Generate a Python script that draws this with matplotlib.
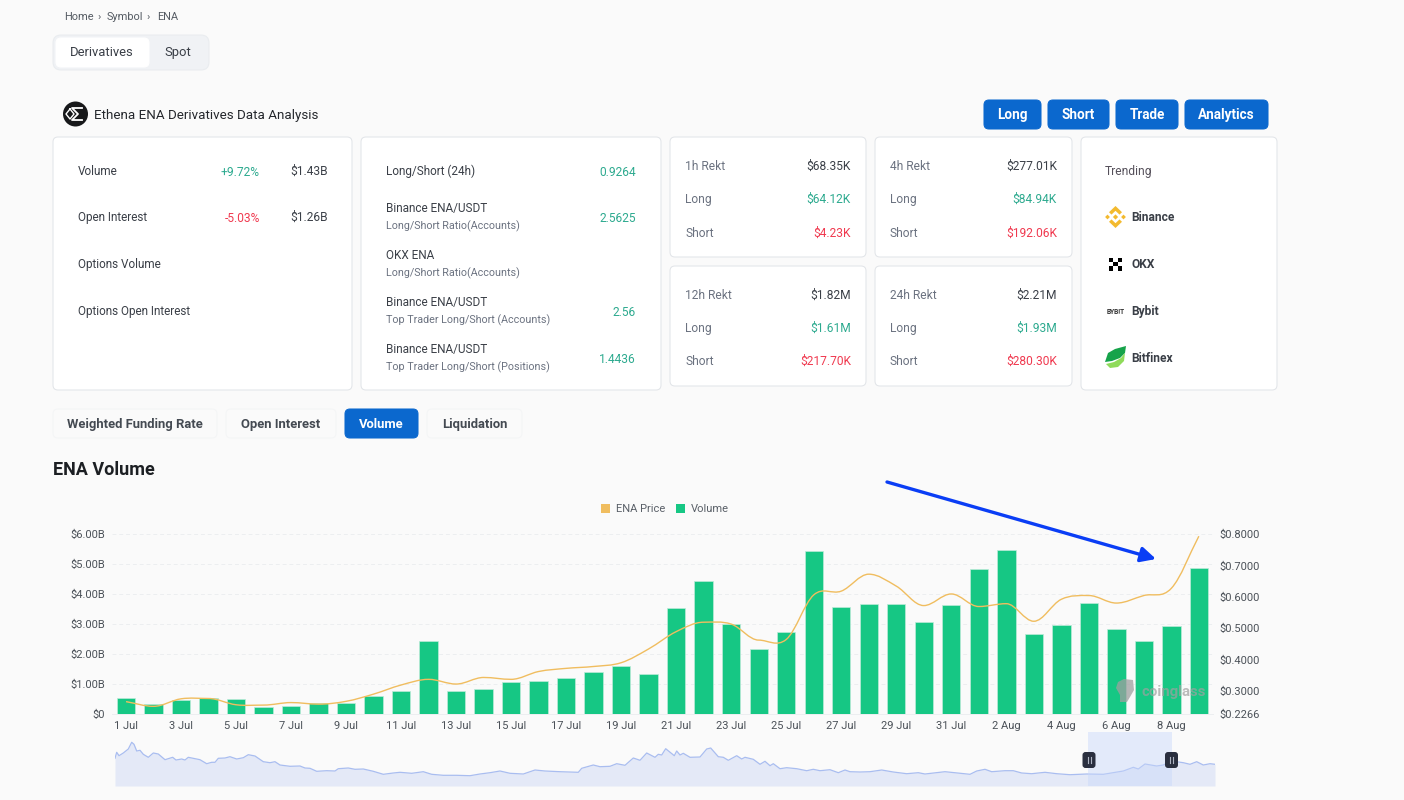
import matplotlib
matplotlib.use("Agg")
import matplotlib.pyplot as plt
from matplotlib.patches import FancyBboxPatch, Polygon, Circle, Rectangle, PathPatch, Patch
from matplotlib.path import Path
import numpy as np

plt.rcParams['font.family'] = ['Roboto', 'DejaVu Sans']

W, H = 1404, 800
BG = '#FAFAFA'
BLUE = '#0B68CE'
GREEN = '#16C784'
GOLD = '#F0BD5F'
UP = '#2DAA8F'
DOWN = '#F0394F'
INK = '#3A3F47'
SUB = '#6B7280'

days = ['1 Jul','2 Jul','3 Jul','4 Jul','5 Jul','6 Jul','7 Jul','8 Jul','9 Jul','10 Jul',
        '11 Jul','12 Jul','13 Jul','14 Jul','15 Jul','16 Jul','17 Jul','18 Jul','19 Jul','20 Jul',
        '21 Jul','22 Jul','23 Jul','24 Jul','25 Jul','26 Jul','27 Jul','28 Jul','29 Jul','30 Jul',
        '31 Jul','1 Aug','2 Aug','3 Aug','4 Aug','5 Aug','6 Aug','7 Aug','8 Aug','9 Aug']
volume_b = [0.55,0.33,0.48,0.52,0.49,0.25,0.27,0.37,0.37,0.59,
            0.77,2.44,0.78,0.83,1.07,1.11,1.19,1.40,1.59,1.33,
            3.53,4.45,3.00,2.17,2.75,5.43,3.57,3.67,3.66,3.07,
            3.63,4.83,5.47,2.68,2.96,3.70,2.82,2.43,2.95,4.87]
price = [.266,.251,.275,.276,.256,.255,.263,.258,.267,.290,
         .319,.337,.322,.343,.337,.362,.372,.378,.390,.434,
         .489,.519,.513,.462,.464,.606,.618,.672,.634,.572,
         .609,.569,.578,.522,.592,.604,.580,.604,.627,.793]
vol_ticks = [0,1,2,3,4,5,6]
vol_labels = ['$0','$1.00B','$2.00B','$3.00B','$4.00B','$5.00B','$6.00B']
price_ticks = [.2266,.3,.4,.5,.6,.7,.8]
price_labels = ['$0.2266','$0.3000','$0.4000','$0.5000','$0.6000','$0.7000','$0.8000']

overview_pos = [0,1.7,4,8.3,13.3,16.7,19,21.7,25,28.3,33.3,38.3,43.3,50,57.7,61,66.7,70,73.3,80,85,91.7,96.7,100,103.3,
    110,115,121.7,128.3,133.3,140,148.3,155,160,165,175,185,190,195,201.7,211.7,220,223.3,233.3,240,248.3,258.3,268.3,
    278.3,285,296.7,308.3,316.7,328.3,341.7,355,365,375,385,395,408.3,420,430,445,463.3,466.7,478.3,485,495,501.7,510,
    518.3,525,531.7,540,543.3,546.7,550.7,559.3,561.7,565,568.3,575,585,591.7,595.7,603.3,608.3,613.3,621.7,626.7,630,
    638.3,645,650,655,658.3,665,671.7,681.7,691.7,698.3,705,715,723.3,730,735,745,755,766.7,778.3,791.7,803.3,810,830,
    845,855,861.7,870,876.7,890,898.3,906.7,916.7,930,941.7,955,971.7,988.3,1008.3,1018.3,1023.3,1030,1041.7,1048.3,
    1056.7,1068.3,1075,1081.7,1088.3,1095,1100]
overview_val = [27.7,33.7,30.3,33,37,43.7,41.7,35,35.7,31.7,28.7,33,32,26.3,28.7,26,27,26,28.7,27.3,26.3,22.3,23.7,23.7,27.7,
    28,29.3,27,28.3,31.3,30,24.3,23.3,24.3,21,19.7,20,18,17.7,14.7,15.3,15,17.3,18,16.7,17,14.7,11.7,
    13,13.7,12.7,14.3,11.7,10.7,10.7,10.3,12,13.3,15,12.7,12,16,15,14.3,13.7,17.7,21,19.3,19.7,22.3,20.7,
    28,25.7,33,28.7,31.7,31,37.3,30.3,35,31,32.7,28.7,29,37,38,29.3,28.7,25.7,30.3,27,28.7,
    26.7,21.7,24.7,20.3,22.3,17.3,18.3,17.3,15.3,16.7,15.3,16.3,13.3,16,14.3,14,14.3,16,14,12.3,13.3,12,14.3,
    12.7,11.7,15,16.7,14.3,15.3,15.3,13,12.3,13.7,12.3,11.3,12,11.7,15,18.7,17,22,20,21,
    25,23.3,21.7,24.3,21,22.3,21.7]

fig = plt.figure(figsize=(W/100, H/100), dpi=100, facecolor=BG)

def axes_px(l, t, r, b, **kw):
    return fig.add_axes([l/W, 1-b/H, (r-l)/W, (b-t)/H], **kw)

page = axes_px(0, 0, W, H, zorder=0)
page.set_xlim(0, W); page.set_ylim(H, 0); page.axis('off')

def box(x0, y0, x1, y1, fc='white', ec='#E2E5E9', r=5, lw=0.75, z=1, ax=page):
    ax.add_patch(FancyBboxPatch((x0+r, y0+r), x1-x0-2*r, y1-y0-2*r,
                 boxstyle=f'round,pad={r},rounding_size={r}', fc=fc, ec=ec, lw=lw, zorder=z))

def T(x, y, s, px=12, c=INK, ha='left', w='normal', ax=page, z=5, **kw):
    ax.text(x, y+0.6, s, fontsize=px*0.72, color=c, ha=ha, va='center', fontweight=w, zorder=z, **kw)

# breadcrumb and segmented control
T(64, 16, 'Home', 11, '#555B63'); T(98, 16, '›', 11, '#555B63')
T(107, 16, 'Symbol', 11, '#555B63'); T(147, 16, '›', 11, '#555B63'); T(157, 16, 'ENA', 11, '#555B63')
box(53, 35, 209, 70, fc='#F0F2F5', ec='#E9ECEF', r=8)
box(56, 38, 149, 67, fc='white', ec='white', r=5, z=2)
T(102, 52, 'Derivatives', 13, INK, 'center'); T(178, 52, 'Spot', 13, INK, 'center')

# title row
page.add_patch(Circle((75.5, 114), 12.5, fc='#17181A', ec='none', zorder=3))
page.plot([82, 72, 78, 72, 82], [108, 108, 114, 120, 120], color='white', lw=1.3, zorder=4)
page.plot([70, 74, 70, 66, 70], [109, 114, 119, 114, 109], color='white', lw=1.0, zorder=4)
T(94, 115, 'Ethena ENA Derivatives Data Analysis', 13.4, '#24272C')
for x0, x1, s in [(984,1041,'Long'),(1048,1109,'Short'),(1116,1178,'Trade'),(1185,1268,'Analytics')]:
    box(x0, 100, x1, 129, fc=BLUE, ec=BLUE, r=5)
    T((x0+x1)/2, 114, s, 13.5, 'white', 'center', 'bold')

# cards
for c in [(53,137,352,390),(361,137,661,390),(670,137,866,257),(875,137,1072,257),
          (670,266,866,386),(875,266,1072,386),(1081,137,1277,390)]:
    box(*c)

T(78, 171, 'Volume', 11.7); T(260, 172, '+9.72%', 12, UP, 'right'); T(328, 171, '$1.43B', 12, INK, 'right')
T(78, 217, 'Open Interest', 11.7); T(260, 218, '-5.03%', 12, DOWN, 'right'); T(328, 217, '$1.26B', 12, INK, 'right')
T(78, 264, 'Options Volume', 11.7); T(78, 311, 'Options Open Interest', 11.7)

T(386, 171, 'Long/Short (24h)', 11.7); T(636, 172, '0.9264', 12, UP, 'right')
T(386, 208, 'Binance ENA/USDT', 11.7); T(386, 226, 'Long/Short Ratio(Accounts)', 10.8, SUB); T(636, 218, '2.5625', 12, UP, 'right')
T(386, 255, 'OKX ENA', 11.7); T(386, 273, 'Long/Short Ratio(Accounts)', 10.8, SUB)
T(386, 302, 'Binance ENA/USDT', 11.7); T(386, 320, 'Top Trader Long/Short (Accounts)', 10.8, SUB); T(636, 312, '2.56', 12, UP, 'right')
T(386, 349, 'Binance ENA/USDT', 11.7); T(386, 367, 'Top Trader Long/Short (Positions)', 10.8, SUB); T(636, 359, '1.4436', 12, UP, 'right')

for x0, x1, ys, rows in [
    (685, 851, (166,199,233), ('1h Rekt','$68.35K','$64.12K','$4.23K')),
    (890, 1057, (166,199,233), ('4h Rekt','$277.01K','$84.94K','$192.06K')),
    (685, 851, (295,328,361), ('12h Rekt','$1.82M','$1.61M','$217.70K')),
    (890, 1057, (295,328,361), ('24h Rekt','$2.21M','$1.93M','$280.30K'))]:
    T(x0, ys[0], rows[0], 12, SUB); T(x1, ys[0], rows[1], 12, INK, 'right')
    T(x0, ys[1], 'Long', 12, SUB); T(x1, ys[1], rows[2], 12, UP, 'right')
    T(x0, ys[2], 'Short', 12, SUB); T(x1, ys[2], rows[3], 12, DOWN, 'right')

T(1105, 171, 'Trending', 12, '#55505A')
for y, s in [(217,'Binance'),(264,'OKX'),(311,'Bybit'),(358,'Bitfinex')]:
    T(1131, y, s, 12, INK, w=600)
# exchange marks
cx, cy = 1115.5, 217
for dx, dy, r in [(0,0,2.6),(-8,0,2.4),(8,0,2.4)]:
    page.add_patch(Polygon([(cx+dx,cy+dy-r),(cx+dx+r,cy+dy),(cx+dx,cy+dy+r),(cx+dx-r,cy+dy)], fc='#F3BA2F', ec='none', zorder=4))
for sgn in (-1, 1):
    page.add_patch(Polygon([(cx,cy+sgn*11),(cx+6.5,cy+sgn*4.8),(cx+4,cy+sgn*2.4),(cx,cy+sgn*6.2),(cx-4,cy+sgn*2.4),(cx-6.5,cy+sgn*4.8)],
                           fc='#F3BA2F', ec='none', zorder=4))
for dx, dy in [(-6.5,-6.5),(2.1,-6.5),(-2.2,-2.2),(-6.5,2.1),(2.1,2.1)]:
    page.add_patch(Rectangle((1115.5+dx, 264+dy), 4.4, 4.4, fc='black', ec='none', zorder=4))
page.text(1116, 311.5, 'BYB!T', fontsize=4.8, color='#333', ha='center', va='center', fontweight='bold', zorder=4)
page.add_patch(Polygon([(1105,362),(1108,353),(1115,349),(1126,346),(1125,353),(1120,358),(1112,361)], fc='#16A34A', ec='none', zorder=4))
page.add_patch(Polygon([(1106,364),(1114,362),(1121,358),(1125,353),(1124,361),(1118,367),(1110,368)], fc='#8FDB5A', ec='none', zorder=4))

# section tabs
for x0, x1, s, on in [(53,217,'Weighted Funding Rate',0),(226,336,'Open Interest',0),(345,418,'Volume',1),(427,522,'Liquidation',0)]:
    box(x0, 409, x1, 438, fc=BLUE if on else '#FAFAFA', ec=BLUE if on else '#F4F5F6', r=5)
    T((x0+x1)/2, 423.5, s, 13, 'white' if on else '#444A52', 'center', 'bold')
T(53, 469, 'ENA Volume', 18, '#1C1F23', w='bold')

# main chart
ax = axes_px(112.3, 534, 1212.6, 714, zorder=2)
ax.patch.set_alpha(0)
x = np.arange(len(days))
ax.bar(x, volume_b, width=0.67, color=GREEN, edgecolor='#BDEBD8', linewidth=0.5, zorder=2)
ax.set_xlim(-0.5, len(days)-0.5); ax.set_ylim(0, 6)
ax.set_yticks(vol_ticks); ax.set_yticklabels(vol_labels)
ax.set_xticks(x[::2]); ax.set_xticklabels(days[::2])
ax.tick_params(axis='both', length=0, labelsize=8, labelcolor='#4B5158')
ax.tick_params(axis='y', pad=5); ax.tick_params(axis='x', pad=5)
ax.grid(axis='y', color='#ECEEF0', lw=0.7, ls=(0, (4, 3)), zorder=0)
for sp in ax.spines.values():
    sp.set_visible(False)
ax.spines['bottom'].set_visible(True); ax.spines['bottom'].set_color('#ECEEF0'); ax.spines['bottom'].set_linewidth(0.7)

ax2 = ax.twinx()
ax2.set_ylim(price_ticks[0], price_ticks[-1])
ax2.set_yticks(price_ticks); ax2.set_yticklabels(price_labels)
ax2.tick_params(axis='y', length=0, labelsize=8, labelcolor='#4B5158', pad=5)
for sp in ax2.spines.values():
    sp.set_visible(False)
ax2.patch.set_alpha(0)

# smooth price curve through the daily values
p = np.array(price, float)
tan = np.zeros_like(p)
tan[1:-1] = (p[2:] - p[:-2]) * 0.5
for i in range(1, len(p)-1):
    if (p[i]-p[i-1])*(p[i+1]-p[i]) <= 0:
        tan[i] = 0
tan[0] = p[1]-p[0]; tan[-1] = p[-1]-p[-2]
verts = [(x[0], p[0])]; codes = [Path.MOVETO]
for i in range(len(p)-1):
    verts += [(x[i]+0.35, p[i]+tan[i]*0.35), (x[i+1]-0.35, p[i+1]-tan[i+1]*0.35), (x[i+1], p[i+1])]
    codes += [Path.CURVE4]*3
ax2.add_patch(PathPatch(Path(verts, codes), fc='none', ec=GOLD, lw=1.0, zorder=5))

leg = fig.legend(handles=[Patch(fc=GOLD, ec='none', label='ENA Price'), Patch(fc=GREEN, ec='none', label='Volume')],
                 loc='center', bbox_to_anchor=(665/W, 1-509/H), ncol=2, frameon=False, fontsize=8,
                 handlelength=0.8, handleheight=0.9, handletextpad=0.5, columnspacing=1.0, labelcolor='#5A6068')

# overview slider
ov = axes_px(115, 726, 1215, 786, zorder=2)
ov.patch.set_alpha(0)
ov.set_xlim(0, 1100); ov.set_ylim(0, 60); ov.axis('off')
ov.fill_between(overview_pos, overview_val, 0, color='#E4E9F7', lw=0, zorder=1)
ov.plot(overview_pos, overview_val, color='#A9BDF0', lw=0.9, zorder=2)
ov.add_patch(Rectangle((973, 0), 84, 54, fc='#C9D8FB', ec='none', alpha=0.45, zorder=3))
for hx in (974, 1056.5):
    ov.add_patch(FancyBboxPatch((hx-3.5, 21), 7, 10, boxstyle='round,pad=3,rounding_size=3', fc='#2A2F3F', ec='none', zorder=4))
    ov.plot([hx-1.5, hx-1.5], [23, 29], color='#AEB4C2', lw=0.8, zorder=5)
    ov.plot([hx+1.5, hx+1.5], [23, 29], color='#AEB4C2', lw=0.8, zorder=5)

# overlay: annotation arrow and watermark
top = axes_px(0, 0, W, H, zorder=6)
top.set_xlim(0, W); top.set_ylim(H, 0); top.axis('off'); top.patch.set_alpha(0)
top.annotate('', xy=(1156, 559), xytext=(887, 482),
             arrowprops=dict(arrowstyle='-|>,head_length=0.9,head_width=0.45', color='#0A3DF5', lw=2.4, shrinkA=0, shrinkB=0))
top.add_patch(Polygon([(1118,682),(1124,679),(1133,680),(1134,690),(1130,697),(1127,702),(1120,702),(1120,695),(1116,688)],
                      fc='#A0A0A0', ec='none', alpha=0.75))
T(1141, 691, 'coinglass', 15, '#A0A0A0', ax=top, w='bold', alpha=0.7)

fig.savefig('out.png', dpi=100, facecolor=BG)
